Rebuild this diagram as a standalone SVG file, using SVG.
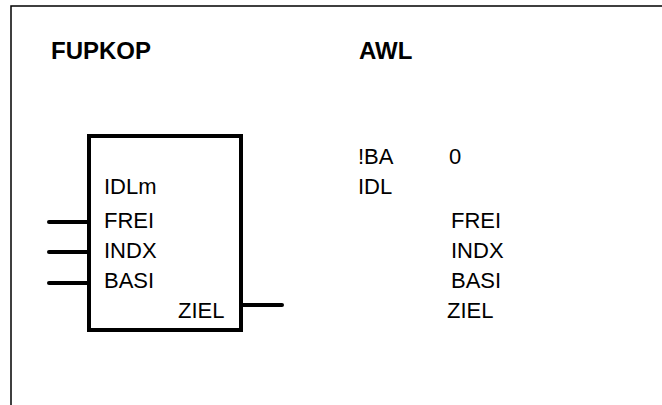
<svg xmlns="http://www.w3.org/2000/svg" width="662" height="405" viewBox="0 0 662 405">
<style>
.t{font-family:"Liberation Sans",Arial,sans-serif;font-size:22px;fill:#000}
.h{font-family:"Liberation Sans",Arial,sans-serif;font-size:24px;font-weight:bold;fill:#000}
.w{stroke:#000;stroke-width:4;stroke-linecap:round;fill:none}
</style>
<rect x="0" y="0" width="662" height="405" fill="#fff"/>
<rect x="11" y="6" width="700" height="500" fill="none" stroke="#000" stroke-width="1.5"/>
<text class="h" x="51" y="59">FUPKOP</text>
<text class="h" x="359" y="59">AWL</text>
<g id="block">
<rect x="89" y="136" width="152" height="194" fill="#fff" stroke="#000" stroke-width="4"/>
<text class="t" x="104" y="194">IDLm</text>
<text class="t" x="104" y="228">FREI</text>
<text class="t" x="104" y="258">INDX</text>
<text class="t" x="104" y="288">BASI</text>
<text class="t" x="178" y="318">ZIEL</text>
</g>
<g id="connectors">
<line class="w" x1="49" y1="222" x2="89" y2="222"/>
<line class="w" x1="49" y1="252" x2="89" y2="252"/>
<line class="w" x1="49" y1="283" x2="89" y2="283"/>
<line class="w" x1="241" y1="305" x2="282" y2="305"/>
</g>
<g id="awl">
<text class="t" x="358" y="164">!BA</text>
<text class="t" x="449" y="164">0</text>
<text class="t" x="358" y="194">IDL</text>
<text class="t" x="451" y="228">FREI</text>
<text class="t" x="451" y="258">INDX</text>
<text class="t" x="451" y="288">BASI</text>
<text class="t" x="447" y="318">ZIEL</text>
</g>
</svg>
